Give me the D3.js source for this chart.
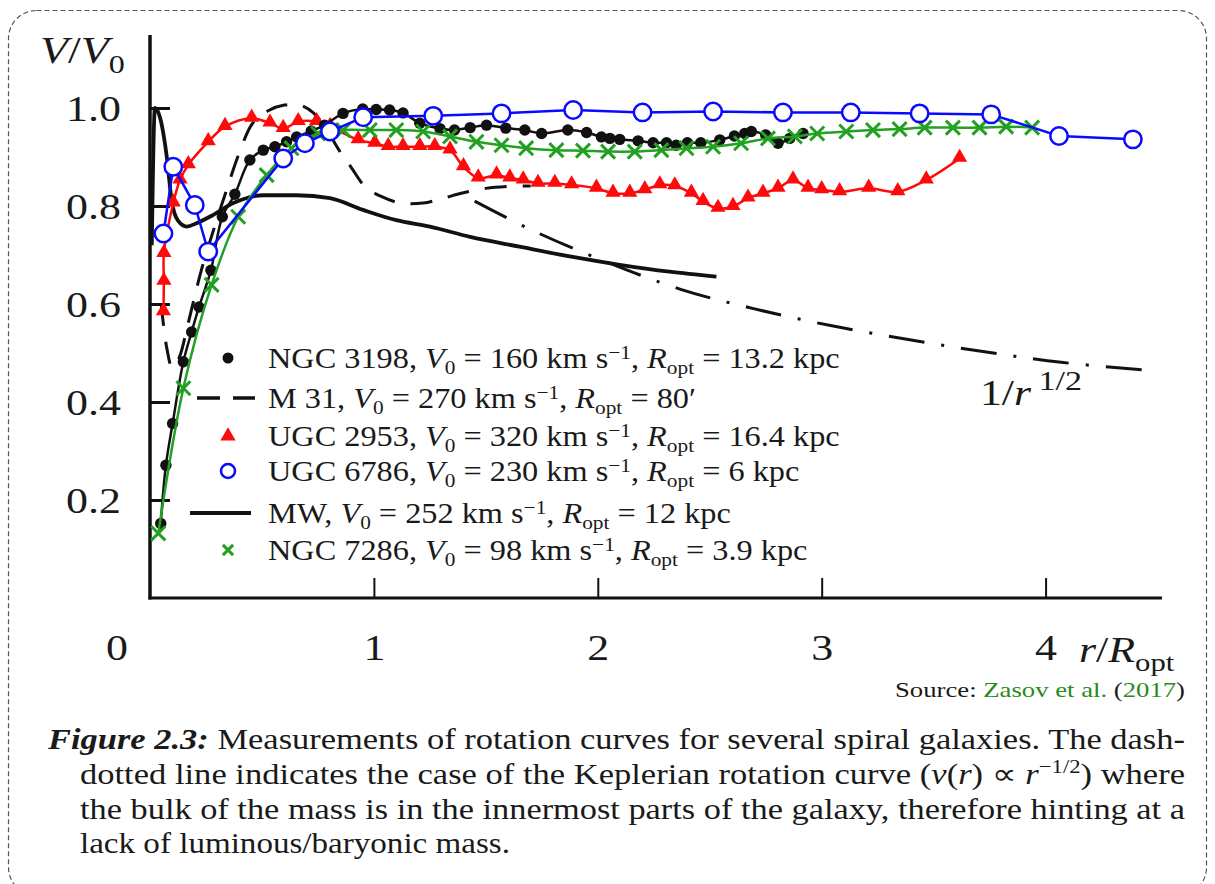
<!DOCTYPE html>
<html>
<head>
<meta charset="utf-8">
<script src="https://cdn.jsdelivr.net/npm/d3@7"></script>
<style>
  html, body { margin: 0; padding: 0; background: #fff; }
  svg { display: block; }
</style>
</head>
<body>
<svg id="chart" width="1215" height="884"></svg>
<script>
// ---------------- DATA ----------------
const xTicks = [1, 2, 3, 4];
const yTicks = [0.2, 0.4, 0.6, 0.8, 1.0];

const ngc3198R = [0.048,0.071,0.101,0.149,0.186,0.219,0.272,0.323,0.379,0.446,0.506,0.558,0.610,0.655,0.72,0.78,0.862,0.95,1.01,1.07,1.13,1.205,1.295,1.36,1.43,1.503,1.589,1.674,1.749,1.866,1.95,2.016,2.054,2.098,2.18,2.247,2.307,2.35,2.40,2.46,2.545,2.61,2.656,2.686,2.75,2.805,2.857,2.917];
const ngc3198V = [0.152,0.271,0.356,0.482,0.543,0.594,0.669,0.778,0.824,0.894,0.914,0.921,0.931,0.941,0.953,0.965,0.989,0.998,0.997,0.996,0.99,0.969,0.958,0.955,0.96,0.965,0.959,0.955,0.948,0.955,0.950,0.941,0.938,0.936,0.933,0.929,0.929,0.924,0.929,0.929,0.935,0.943,0.948,0.952,0.945,0.928,0.938,0.948];

const m31R = [0.05,0.075,0.1,0.13,0.17,0.23,0.29,0.34,0.40,0.46,0.53,0.6,0.67,0.73,0.79,0.85,0.9,0.96,1.03,1.12,1.22,1.31,1.4,1.5,1.6,1.7];
const m31V = [0.6,0.51,0.47,0.49,0.56,0.67,0.76,0.83,0.91,0.97,0.995,1.006,1.006,0.99,0.955,0.91,0.878,0.84,0.82,0.806,0.806,0.816,0.827,0.836,0.84,0.841];

const ugc2953R = [0.06,0.062,0.062,0.104,0.134,0.171,0.26,0.335,0.454,0.536,0.595,0.662,0.744,0.804,0.93,1.004,1.064,1.13,1.205,1.272,1.34,1.40,1.466,1.548,1.607,1.667,1.733,1.808,1.883,1.994,2.068,2.143,2.21,2.277,2.344,2.418,2.47,2.537,2.604,2.671,2.738,2.805,2.872,2.939,3.0,3.08,3.21,3.34,3.467,3.616];
const ugc2953V = [0.584,0.646,0.703,0.806,0.853,0.884,0.931,0.962,0.979,0.969,0.958,0.972,0.972,0.962,0.935,0.928,0.921,0.921,0.921,0.921,0.914,0.88,0.857,0.863,0.857,0.853,0.846,0.846,0.843,0.836,0.826,0.826,0.833,0.843,0.841,0.826,0.809,0.795,0.799,0.816,0.826,0.836,0.853,0.836,0.833,0.829,0.836,0.829,0.853,0.897];

const ugc6786R = [0.06,0.104,0.2,0.26,0.595,0.692,0.804,0.952,1.265,1.57,1.89,2.2,2.515,2.827,3.13,3.4375,3.757,4.06,4.39];
const ugc6786V = [0.744,0.88,0.802,0.707,0.897,0.928,0.952,0.981,0.984,0.989,0.996,0.991,0.993,0.991,0.991,0.989,0.987,0.943,0.936];

const mwR = [0.008,0.022,0.045,0.075,0.097,0.125,0.164,0.208,0.283,0.372,0.506,0.655,0.804,0.952,1.10,1.25,1.43,1.65,1.875,2.098,2.32,2.53];
const mwV = [0.72,1.0,0.98,0.9,0.81,0.77,0.758,0.765,0.782,0.806,0.822,0.822,0.816,0.792,0.771,0.758,0.737,0.717,0.697,0.68,0.666,0.656];

const ngc7286R = [0.037,0.149,0.275,0.394,0.521,0.632,0.751,0.863,0.982,1.10,1.22,1.34,1.458,1.57,1.68,1.815,1.934,2.046,2.165,2.284,2.396,2.515,2.64,2.76,2.88,2.98,3.11,3.229,3.348,3.46,3.586,3.705,3.824,3.94];
const ngc7286V = [0.132,0.428,0.639,0.778,0.863,0.918,0.948,0.955,0.955,0.955,0.952,0.942,0.931,0.924,0.918,0.914,0.913,0.911,0.911,0.914,0.918,0.921,0.928,0.938,0.942,0.948,0.952,0.955,0.957,0.96,0.96,0.96,0.962,0.96];

const keplerR = [1.45,1.7,2.0,2.37,2.7,3.04,3.38,3.72,4.07,4.5];
const keplerV = [0.81,0.752,0.693,0.630,0.590,0.556,0.528,0.503,0.481,0.463];

const legendLabels = [
  [["NGC 3198, "],["V","i"],["0","sub"],[" = 160 km s"],["−1","sup"],[", "],["R","i"],["opt","sub"],[" = 13.2 kpc"]],
  [["M 31, "],["V","i"],["0","sub"],[" = 270 km s"],["−1","sup"],[", "],["R","i"],["opt","sub"],[" = 80′"]],
  [["UGC 2953, "],["V","i"],["0","sub"],[" = 320 km s"],["−1","sup"],[", "],["R","i"],["opt","sub"],[" = 16.4 kpc"]],
  [["UGC 6786, "],["V","i"],["0","sub"],[" = 230 km s"],["−1","sup"],[", "],["R","i"],["opt","sub"],[" = 6 kpc"]],
  [["MW, "],["V","i"],["0","sub"],[" = 252 km s"],["−1","sup"],[", "],["R","i"],["opt","sub"],[" = 12 kpc"]],
  [["NGC 7286, "],["V","i"],["0","sub"],[" = 98 km s"],["−1","sup"],[", "],["R","i"],["opt","sub"],[" = 3.9 kpc"]]
];

// ---------------- SETUP ----------------
const SERIF = "'Liberation Serif', 'Times New Roman', serif";
const INK = "#1a1a1a";
const svg = d3.select("#chart");
const x = d3.scaleLinear().domain([0, 4.52]).range([150, 1162]);
const y = d3.scaleLinear().domain([0, 1.149]).range([598, 35]);

// frame
svg.append("rect").attr("x", 8.5).attr("y", 10.5).attr("width", 1198).attr("height", 885)
  .attr("rx", 28).attr("fill", "none").attr("stroke", "#555").attr("stroke-width", 1.2)
  .attr("stroke-dasharray", "5,3");

function stext(parent, tx, ty, fs, sx, anchor) {
  return parent.append("text")
    .attr("transform", `translate(${tx},${ty}) scale(${sx},1)`)
    .attr("text-anchor", anchor || "start")
    .attr("font-size", fs).attr("fill", INK)
    .style("font-family", SERIF);
}
function rich(sel, parts, fs, opt) {
  const o = Object.assign({ sub: 0.26, sup: 0.38, small: 0.7 }, opt || {});
  let pending = 0;
  parts.forEach(p => {
    const [t, st] = p;
    const ts = sel.append("tspan").text(t).style("font-family", SERIF);
    let dy = pending; pending = 0;
    if (st === "i") ts.attr("font-style", "italic");
    if (st === "sub") { ts.attr("font-size", fs * o.small); dy += fs * o.sub; pending = -fs * o.sub; }
    if (st === "sup") { ts.attr("font-size", fs * o.small); dy += -fs * o.sup; pending = fs * o.sup; if (o.supDx) ts.attr("dx", o.supDx); }
    if (dy !== 0) ts.attr("dy", dy);
  });
}

// axes
const TSX = 1.22;
const yAxis = d3.axisLeft(y).tickValues(yTicks).tickSizeInner(-20).tickSizeOuter(0)
  .tickPadding(29).tickFormat(d3.format(".1f"));
const gy = svg.append("g").attr("transform", "translate(150,0)").call(yAxis);
gy.select(".domain").remove();
gy.selectAll(".tick line").attr("stroke", "#111").attr("stroke-width", 3);
gy.selectAll(".tick text").attr("font-size", 36).attr("fill", INK).style("font-family", SERIF)
  .attr("x", null).attr("dy", "0.34em").attr("transform", `translate(-29,0) scale(${TSX},1)`);

const xAxis = d3.axisBottom(x).tickValues(xTicks).tickSizeInner(-20).tickSizeOuter(0)
  .tickPadding(36).tickFormat(d3.format("d"));
const gx = svg.append("g").attr("transform", "translate(0,598)").call(xAxis);
gx.select(".domain").remove();
gx.selectAll(".tick line").attr("stroke", "#111").attr("stroke-width", 2);
gx.selectAll(".tick text").attr("font-size", 36).attr("fill", INK).style("font-family", SERIF)
  .attr("y", null).attr("dy", null).attr("transform", `translate(0,62) scale(${TSX},1)`);

svg.append("line").attr("x1", x(0)).attr("x2", x(0)).attr("y1", 35).attr("y2", y(0) + 1.5)
  .attr("stroke", "#111").attr("stroke-width", 3.5);
svg.append("line").attr("x1", x(0) - 1.5).attr("x2", x(4.52)).attr("y1", y(0)).attr("y2", y(0))
  .attr("stroke", "#111").attr("stroke-width", 3);

stext(svg, 117, 660, 36, TSX, "middle").text("0");

rich(stext(svg, 40, 63, 37, 1.24), [["V","i"],["/"],["V","i"],["0","sub"]], 37);
rich(stext(svg, 1079, 662, 36, 1.22), [["r","i"],["/"],["R","i"],["opt","sub"]], 36);

// ---------------- LINES ----------------
const zip = (R, V) => R.map((r, i) => ({ r, v: V[i] }));
const lineSmooth = d3.line().x(d => x(d.r)).y(d => y(d.v)).curve(d3.curveCatmullRom.alpha(0.5));
const lineMono = d3.line().x(d => x(d.r)).y(d => y(d.v)).curve(d3.curveMonotoneX);
const lineLin = d3.line().x(d => x(d.r)).y(d => y(d.v));

const mw = zip(mwR, mwV), m31 = zip(m31R, m31V), kep = zip(keplerR, keplerV);
const ugc2953 = zip(ugc2953R, ugc2953V), ngc3198 = zip(ngc3198R, ngc3198V);
const ngc7286 = zip(ngc7286R, ngc7286V), ugc6786 = zip(ugc6786R, ugc6786V);

svg.append("path").attr("d", lineMono(mw)).attr("fill", "none").attr("stroke", "#111").attr("stroke-width", 3.8);
svg.append("path").attr("d", lineSmooth(m31)).attr("fill", "none").attr("stroke", "#111").attr("stroke-width", 3)
  .attr("stroke-dasharray", "22,16");
svg.append("path").attr("d", lineSmooth(kep)).attr("fill", "none").attr("stroke", "#111").attr("stroke-width", 3)
  .attr("stroke-dasharray", "36,17,3,17");

const red = "#ff0a0a", blue = "#0a0aff", green = "#22a022";

svg.append("path").attr("d", lineSmooth(ugc2953)).attr("fill", "none").attr("stroke", red).attr("stroke-width", 2.5);
const tri = d3.symbol().type(d3.symbolTriangle).size(100);
svg.append("g").selectAll("path").data(ugc2953).join("path")
  .attr("d", tri).attr("transform", d => `translate(${x(d.r)},${y(d.v) - 1})`).attr("fill", red);

svg.append("path").attr("d", lineSmooth(ngc3198)).attr("fill", "none").attr("stroke", "#111").attr("stroke-width", 2.5);
svg.append("g").selectAll("circle").data(ngc3198).join("circle")
  .attr("cx", d => x(d.r)).attr("cy", d => y(d.v)).attr("r", 5.7).attr("fill", "#111");

svg.append("path").attr("d", lineSmooth(ngc7286)).attr("fill", "none").attr("stroke", green).attr("stroke-width", 2.5);
const cross = d3.symbol().type(d3.symbolX).size(130);
svg.append("g").selectAll("path").data(ngc7286).join("path")
  .attr("d", cross).attr("transform", d => `translate(${x(d.r)},${y(d.v)})`)
  .attr("fill", "none").attr("stroke", green).attr("stroke-width", 3);

svg.append("path").attr("d", lineLin(ugc6786)).attr("fill", "none").attr("stroke", blue).attr("stroke-width", 2.5);
svg.append("g").selectAll("circle").data(ugc6786).join("circle")
  .attr("cx", d => x(d.r)).attr("cy", d => y(d.v)).attr("r", 8.7)
  .attr("fill", "#fff").attr("stroke", blue).attr("stroke-width", 2.5);

rich(stext(svg, 980, 405, 35, 1.25), [["1/"],["r","i"],["1/2","sup"]], 35, { small: 0.78, sup: 0.42, supDx: 6 });

// ---------------- LEGEND ----------------
const legY = [358, 398, 436, 471, 513, 550];
const lg = svg.append("g");
lg.append("circle").attr("cx", 228).attr("cy", legY[0]).attr("r", 5.5).attr("fill", "#111");
lg.append("line").attr("x1", 197).attr("x2", 255).attr("y1", legY[1]).attr("y2", legY[1])
  .attr("stroke", "#111").attr("stroke-width", 3.5).attr("stroke-dasharray", "23,13");
lg.append("path").attr("d", tri).attr("transform", `translate(228,${legY[2]})`).attr("fill", red);
lg.append("circle").attr("cx", 228).attr("cy", legY[3]).attr("r", 7).attr("fill", "#fff")
  .attr("stroke", blue).attr("stroke-width", 2.5);
lg.append("line").attr("x1", 190).attr("x2", 251).attr("y1", legY[4]).attr("y2", legY[4])
  .attr("stroke", "#111").attr("stroke-width", 4);
lg.append("path").attr("d", d3.symbol().type(d3.symbolX).size(70)).attr("transform", `translate(228,${legY[5]})`)
  .attr("fill", "none").attr("stroke", green).attr("stroke-width", 3);

const LFS = 29;
const legTexts = legendLabels.map((parts, i) => {
  const t = stext(lg, 268, legY[i] + 10, LFS, 1);
  rich(t, parts, LFS, { sub: 0.2, sup: 0.32, small: 0.66 });
  return t;
});
const w0 = legTexts[0].node().getComputedTextLength();
const LSX = w0 > 0 ? 572 / w0 : 1.15;
legTexts.forEach((t, i) => t.attr("transform", `translate(268,${legY[i] + 10}) scale(${LSX},1)`));

// ---------------- SOURCE & CAPTION ----------------
const src = svg.append("text").attr("x", 1185).attr("y", 697).attr("font-size", 22)
  .attr("text-anchor", "end").attr("fill", INK).style("font-family", SERIF)
  .attr("textLength", 290).attr("lengthAdjust", "spacingAndGlyphs");
src.append("tspan").text("Source: ");
src.append("tspan").attr("fill", "#2a8a1a").text("Zasov et al.");
src.append("tspan").text(" (");
src.append("tspan").attr("fill", "#2a8a1a").text("2017");
src.append("tspan").text(")");

const CFS = 29;
function capLine(tx, ty, len) {
  return svg.append("text").attr("x", tx).attr("y", ty).attr("font-size", CFS).attr("fill", INK)
    .style("font-family", SERIF).attr("textLength", len).attr("lengthAdjust", "spacingAndGlyphs");
}
const c1 = capLine(48, 749, 1137);
c1.append("tspan").attr("font-weight", "bold").attr("font-style", "italic").text("Figure 2.3:");
c1.append("tspan").text(" Measurements of rotation curves for several spiral galaxies. The dash-");
const c2 = capLine(80, 784, 1105);
c2.append("tspan").text("dotted line indicates the case of the Keplerian rotation curve (");
c2.append("tspan").attr("font-style", "italic").text("v");
c2.append("tspan").text("(");
c2.append("tspan").attr("font-style", "italic").text("r");
c2.append("tspan").text(") ∝ ");
c2.append("tspan").attr("font-style", "italic").text("r");
c2.append("tspan").attr("font-size", 19).attr("dy", -11).text("−1/2");
c2.append("tspan").attr("dy", 11).text(") where");
capLine(80, 819, 1105).text("the bulk of the mass is in the innermost parts of the galaxy, therefore hinting at a");
capLine(80, 853, 430).text("lack of luminous/baryonic mass.");
</script>
</body>
</html>
